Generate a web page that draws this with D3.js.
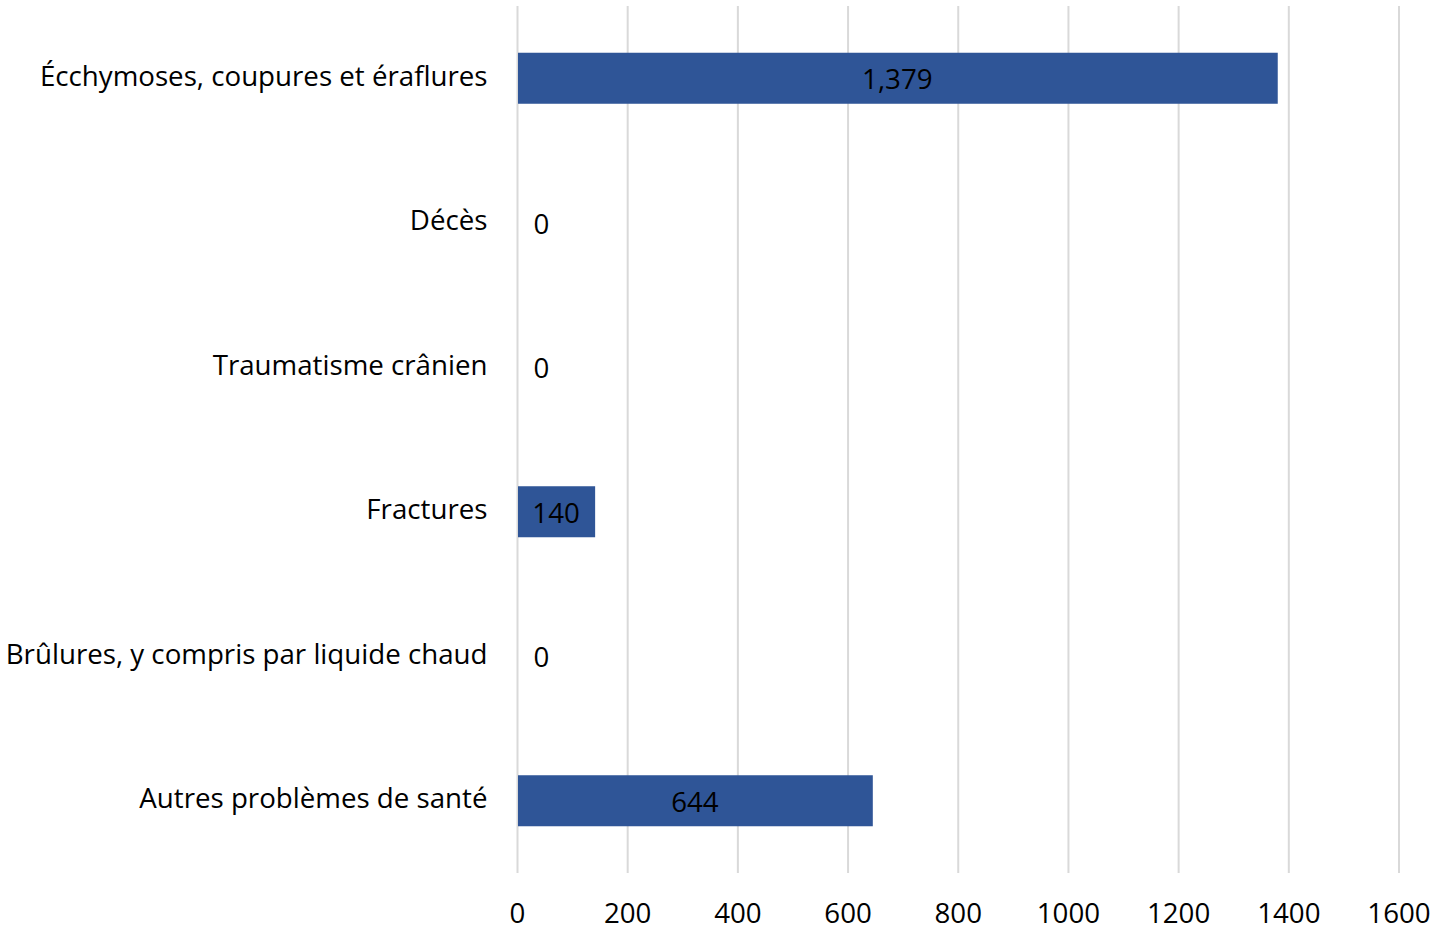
<!DOCTYPE html>
<html>
<head>
<meta charset="utf-8">
<script src="https://cdn.jsdelivr.net/npm/d3@7"></script>
<style>
  body { margin: 0; background: #fff; }
  text { font-family: "Open Sans", "Noto Sans", sans-serif; fill: #000; }
</style>
</head>
<body>
<div id="chart"></div>
<script>
// chart data
var categories = [
    "Écchymoses, coupures et éraflures",
    "Décès",
    "Traumatisme crânien",
    "Fractures",
    "Brûlures, y compris par liquide chaud",
    "Autres problèmes de santé"
];
var values = [1379, 0, 0, 140, 0, 644];
var tickValues = [0, 200, 400, 600, 800, 1000, 1200, 1400, 1600];

var width = 1435, height = 931;
var margin = { top: 6, right: 36, bottom: 58, left: 517.5 };
var fontSize = "27.7px";

var svg = d3.select("#chart").append("svg")
    .attr("width", width)
    .attr("height", height);

var x = d3.scaleLinear()
    .domain([0, 1600])
    .range([margin.left, width - margin.right]);

var y = d3.scaleBand()
    .domain(categories)
    .range([margin.top, height - margin.bottom])
    .paddingInner(0.647)
    .paddingOuter(0.3235);

// vertical grid lines
svg.append("g").selectAll("line")
    .data(tickValues)
    .enter().append("line")
    .attr("x1", function(d) { return x(d); })
    .attr("x2", function(d) { return x(d); })
    .attr("y1", margin.top)
    .attr("y2", height - margin.bottom)
    .style("stroke", "#d9d9d9")
    .style("stroke-width", 2);

// x tick labels
svg.append("g").selectAll("text")
    .data(tickValues)
    .enter().append("text")
    .attr("x", function(d) { return x(d); })
    .attr("y", 913)
    .attr("dy", "0.35em")
    .attr("text-anchor", "middle")
    .style("font-size", fontSize)
    .text(function(d) { return d; });

// bars
svg.append("g").selectAll("rect")
    .data(values)
    .enter().append("rect")
    .attr("x", x(0) + 0.5)
    .attr("y", function(d, i) { return y(categories[i]); })
    .attr("width", function(d) { return x(d) - x(0); })
    .attr("height", y.bandwidth())
    .style("fill", "#2f5597");

// category labels
svg.append("g").selectAll("text")
    .data(categories)
    .enter().append("text")
    .attr("x", x(0) - 30)
    .attr("y", function(d) { return y(d) + y.bandwidth() / 2 - 2; })
    .attr("dy", "0.35em")
    .attr("text-anchor", "end")
    .style("font-size", fontSize)
    .text(function(d) { return d; });

// value labels
svg.append("g").selectAll("text")
    .data(values)
    .enter().append("text")
    .attr("x", function(d) { return d > 0 ? (x(0) + x(d)) / 2 : x(0) + 16; })
    .attr("y", function(d, i) { return y(categories[i]) + y.bandwidth() / 2 + 1.5; })
    .attr("dy", "0.35em")
    .attr("text-anchor", function(d) { return d > 0 ? "middle" : "start"; })
    .style("font-size", fontSize)
    .text(function(d) { return d3.format(",")(d); });
</script>
</body>
</html>
